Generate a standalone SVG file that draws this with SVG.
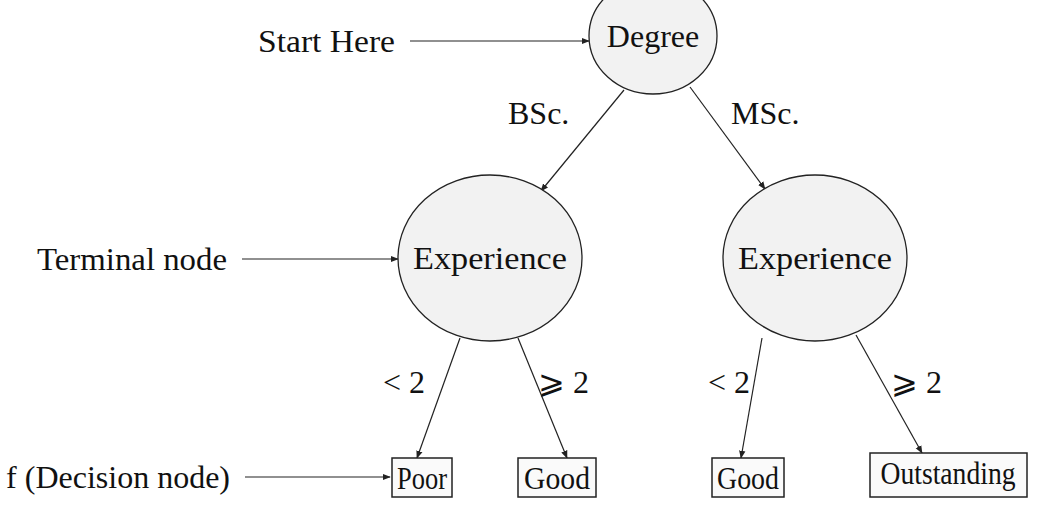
<svg xmlns="http://www.w3.org/2000/svg" width="1040" height="526" viewBox="0 0 1040 526">
<style>
text{font-family:"Liberation Serif","Times New Roman",serif;font-size:32px;fill:#111}
.n{fill:#f2f2f2;stroke:#222;stroke-width:1.3}
.b{fill:#fafafa;stroke:#222;stroke-width:1.5}
.e{stroke:#222;stroke-width:1.2;fill:none;marker-end:url(#a)}
</style>
<defs><marker id="a" viewBox="0 0 10 10" refX="9" refY="5" markerWidth="8" markerHeight="8" orient="auto" markerUnits="userSpaceOnUse"><path d="M0,1 L10,5 L0,9 Z" fill="#222"/></marker></defs>
<rect width="1040" height="526" fill="#fff"/>
<g id="connectors">
<line class="e" x1="410" y1="41" x2="589" y2="41"/>
<line class="e" x1="242" y1="259" x2="398" y2="259"/>
<line class="e" x1="245" y1="477" x2="390" y2="477"/>
<line class="e" x1="624" y1="90" x2="541" y2="191"/>
<line class="e" x1="690" y1="87" x2="765" y2="189"/>
<line class="e" x1="460" y1="338" x2="417" y2="458"/>
<line class="e" x1="518" y1="338" x2="567" y2="458"/>
<line class="e" x1="762" y1="338" x2="741" y2="458"/>
<line class="e" x1="856" y1="335" x2="922" y2="453"/>
<text x="508" y="124">BSc.</text>
<text x="731" y="124">MSc.</text>
<text x="383" y="393">&lt; 2</text>
<text x="538" y="393">⩾ 2</text>
<text x="708" y="393">&lt; 2</text>
<text x="891" y="393">⩾ 2</text>
<text x="258" y="52" textLength="137" lengthAdjust="spacingAndGlyphs">Start Here</text>
<text x="37" y="270" textLength="190" lengthAdjust="spacingAndGlyphs">Terminal node</text>
<text x="230" y="488" text-anchor="end">f (Decision node)</text>
</g>
<g id="degree"><ellipse class="n" cx="653" cy="36" rx="64" ry="58"/><text x="653" y="47" text-anchor="middle">Degree</text></g>
<g id="exp-left"><ellipse class="n" cx="490" cy="258" rx="92" ry="83"/><text x="490" y="269" text-anchor="middle" textLength="154" lengthAdjust="spacingAndGlyphs">Experience</text></g>
<g id="exp-right"><ellipse class="n" cx="815" cy="258" rx="92" ry="83"/><text x="815" y="269" text-anchor="middle" textLength="154" lengthAdjust="spacingAndGlyphs">Experience</text></g>
<g id="poor"><rect class="b" x="392" y="458" width="60" height="39"/><text x="422" y="489" text-anchor="middle" textLength="50" lengthAdjust="spacingAndGlyphs">Poor</text></g>
<g id="good1"><rect class="b" x="518" y="458" width="78" height="39"/><text x="557" y="489" text-anchor="middle" textLength="66" lengthAdjust="spacingAndGlyphs">Good</text></g>
<g id="good2"><rect class="b" x="712" y="458" width="72" height="39"/><text x="748" y="489" text-anchor="middle" textLength="62" lengthAdjust="spacingAndGlyphs">Good</text></g>
<g id="outstanding"><rect class="b" x="870" y="453" width="157" height="44"/><text x="948" y="484" text-anchor="middle" textLength="135" lengthAdjust="spacingAndGlyphs">Outstanding</text></g>
</svg>
